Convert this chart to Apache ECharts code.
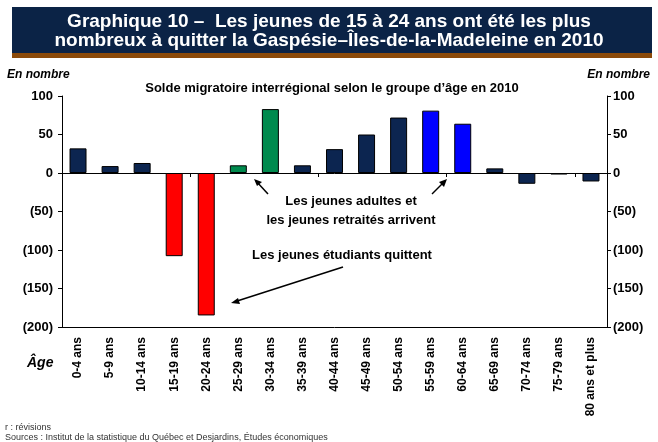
<!DOCTYPE html>
<html>
<head>
<meta charset="utf-8">
<script src="https://cdn.jsdelivr.net/npm/echarts@6/dist/echarts.min.js"></script>
<style>
  html, body { margin: 0; padding: 0; background: #fff; }
  #charts { width: 658px; height: 442px; }
</style>
</head>
<body>
<div id="charts"></div>
<script>
    var myChart = echarts.init(document.getElementById('charts'));

    // groupes d'âge
    var ages = ['0-4 ans', '5-9 ans', '10-14 ans', '15-19 ans', '20-24 ans', '25-29 ans',
        '30-34 ans', '35-39 ans', '40-44 ans', '45-49 ans', '50-54 ans', '55-59 ans',
        '60-64 ans', '65-69 ans', '70-74 ans', '75-79 ans', '80 ans et plus'];
    // solde migratoire (en nombre)
    var solde = [32, 9, 13, -108, -185, 10, 83, 10, 31, 50, 72, 81, 64, 6, -14, -2, -11];
    // couleur de chaque barre
    var couleurs = ['#0c2550', '#0c2550', '#0c2550', '#ff0000', '#ff0000', '#008a4e',
        '#008a4e', '#0c2550', '#0c2550', '#0c2550', '#0c2550', '#0000ff',
        '#0000ff', '#0c2550', '#0c2550', '#0c2550', '#0c2550'];
    var yMin = -200, yMax = 100, yStep = 50;

    var font = '"Liberation Sans", Arial, sans-serif';

    function fmt(v) {
        return v < 0 ? '(' + (-v) + ')' : '' + v;
    }

    var barData = [];
    for (var i = 0; i < solde.length; i++) {
        barData.push({
            value: solde[i],
            itemStyle: { color: couleurs[i] }
        });
    }

    function yAxisDef(pos, margin) {
        return {
            type: 'value',
            position: pos,
            min: yMin,
            max: yMax,
            interval: yStep,
            splitLine: { show: false },
            axisLine: { show: true, lineStyle: { color: '#000', width: 1 } },
            axisTick: { show: true, length: 4, lineStyle: { color: '#000' } },
            axisLabel: {
                formatter: fmt,
                color: '#000',
                fontFamily: font,
                fontWeight: 'bold',
                fontSize: 13,
                margin: margin
            }
        };
    }

    myChart.setOption({
        animation: false,
        backgroundColor: '#fff',
        grid: { left: 62, right: 51, top: 96, bottom: 115 },
        xAxis: [
            {
                type: 'category',
                data: ages,
                position: 'bottom',
                axisLine: { onZero: false, lineStyle: { color: '#000', width: 1 } },
                axisTick: { show: false },
                axisLabel: {
                    rotate: 90,
                    interval: 0,
                    color: '#000',
                    fontFamily: font,
                    fontWeight: 'bold',
                    fontSize: 12,
                    margin: 10
                }
            },
            {
                type: 'category',
                data: ages,
                position: 'top',
                axisLine: { onZero: true, lineStyle: { color: '#000', width: 1 } },
                axisTick: { show: true, inside: true, length: 4, lineStyle: { color: '#000' } },
                axisLabel: { show: false }
            }
        ],
        yAxis: [yAxisDef('left', 9), yAxisDef('right', 6)],
        series: [
            {
                type: 'bar',
                xAxisIndex: 0,
                yAxisIndex: 0,
                data: barData,
                barWidth: '53%',
                itemStyle: { borderColor: '#000', borderWidth: 1 },
                z: 1
            }
        ],
        graphic: [
            { type: 'rect', shape: { x: 12, y: 7, width: 640, height: 46 }, style: { fill: '#0b2346' } },
            { type: 'rect', shape: { x: 12, y: 53, width: 640, height: 5 }, style: { fill: '#8b4a0a' } },
            {
                type: 'text', x: 329, y: 31,
                style: {
                    text: 'Graphique 10 –  Les jeunes de 15 à 24 ans ont été les plus\nnombreux à quitter la Gaspésie–Îles-de-la-Madeleine en 2010',
                    fill: '#fff', font: 'bold 19px ' + font, textAlign: 'center', textVerticalAlign: 'middle', lineHeight: 19
                }
            },
            { type: 'text', left: 7, top: 69, style: { text: 'En nombre', fill: '#000', font: 'italic bold 12px ' + font } },
            { type: 'text', right: 8, top: 69, style: { text: 'En nombre', fill: '#000', font: 'italic bold 12px ' + font } },
            {
                type: 'text', x: 332, y: 88,
                style: { text: 'Solde migratoire interrégional selon le groupe d’âge en 2010', fill: '#000', font: 'bold 13px ' + font, textAlign: 'center', textVerticalAlign: 'middle' }
            },
            { type: 'text', left: 27, top: 356, style: { text: 'Âge', fill: '#000', font: 'italic bold 14px ' + font } },
            {
                type: 'text', x: 351, y: 211,
                style: { text: 'Les jeunes adultes et\nles jeunes retraités arrivent', fill: '#000', font: 'bold 13px ' + font, textAlign: 'center', textVerticalAlign: 'middle', lineHeight: 19 }
            },
            {
                type: 'text', x: 342, y: 255,
                style: { text: 'Les jeunes étudiants quittent', fill: '#000', font: 'bold 13px ' + font, textAlign: 'center', textVerticalAlign: 'middle' }
            },
            { type: 'line', shape: { x1: 268, y1: 194, x2: 256, y2: 181 }, style: { stroke: '#000', lineWidth: 1.5 } },
            { type: 'polygon', shape: { points: [[254, 179], [262, 182], [257, 186]] }, style: { fill: '#000' } },
            { type: 'line', shape: { x1: 432, y1: 194, x2: 445, y2: 181 }, style: { stroke: '#000', lineWidth: 1.5 } },
            { type: 'polygon', shape: { points: [[447, 179], [444, 187], [439, 182]] }, style: { fill: '#000' } },
            { type: 'line', shape: { x1: 343, y1: 267, x2: 234, y2: 302 }, style: { stroke: '#000', lineWidth: 1.5 } },
            { type: 'polygon', shape: { points: [[231, 303], [238, 298], [240, 304]] }, style: { fill: '#000' } },
            {
                type: 'text', left: 5, top: 423,
                style: { text: 'r : révisions\nSources : Institut de la statistique du Québec et Desjardins, Études économiques', fill: '#333', font: '9px ' + font, lineHeight: 10 }
            }
        ]
    });
</script>
</body>
</html>
